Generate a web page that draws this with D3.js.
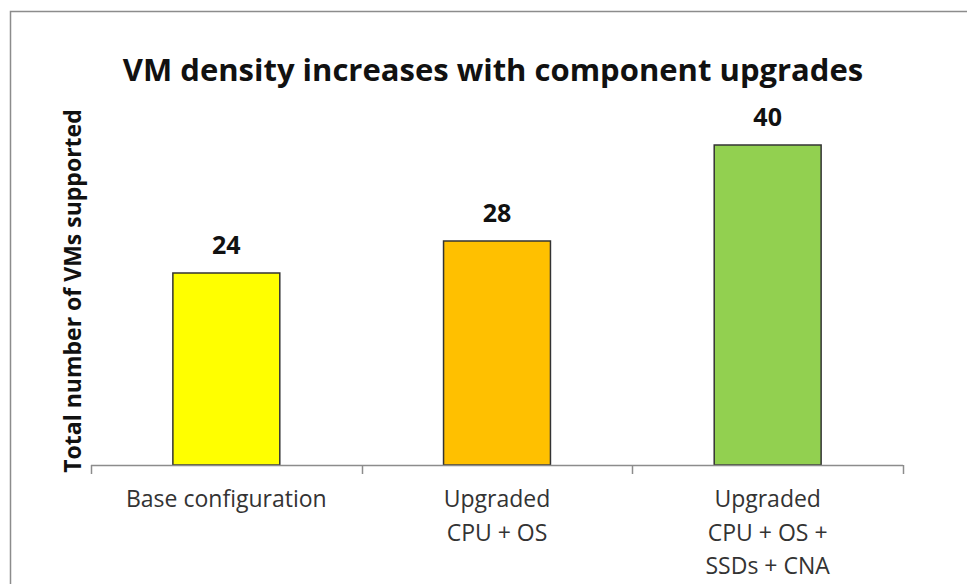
<!DOCTYPE html>
<html>
<head>
<meta charset="utf-8">
<script src="https://cdn.jsdelivr.net/npm/d3@7"></script>
<style>
  body { margin: 0; background: #fff; }
  svg { display: block; }
</style>
</head>
<body>
<svg id="chart"></svg>
<script>
const categories = [
  ["Base configuration"],
  ["Upgraded", "CPU + OS"],
  ["Upgraded", "CPU + OS +", "SSDs + CNA"]
];
const values = [24, 28, 40];
const barColors = ["#ffff00", "#ffc000", "#92d050"];
const titleText = "VM density increases with component upgrades";
const yTitle = "Total number of VMs supported";

const width = 967, height = 584;
const margin = { top: 105, right: 64, bottom: 119, left: 91 };

const svg = d3.select("#chart").attr("width", width).attr("height", height);
const font = "'Open Sans', Lato, sans-serif";

// outer frame (runs off right and bottom)
svg.append("rect")
  .attr("x", 10.5).attr("y", 11.5)
  .attr("width", width + 20).attr("height", height + 20)
  .attr("fill", "none")
  .attr("stroke", "#8c8c8c")
  .attr("stroke-width", 1.5);

svg.append("text")
  .attr("x", 493).attr("y", 81)
  .attr("text-anchor", "middle")
  .attr("font-family", font)
  .attr("font-weight", "bold")
  .attr("font-size", 31)
  .attr("fill", "#111")
  .text(titleText);

const x = d3.scaleBand()
  .domain(d3.range(values.length))
  .range([margin.left, width - margin.right])
  .paddingInner(0.605)
  .paddingOuter(0.3025);

const y = d3.scaleLinear()
  .domain([0, 45])
  .range([height - margin.bottom, margin.top]);

const x0 = margin.left, x1 = width - margin.right;
const base = y(0);
const step = (x1 - x0) / values.length;

// bars
svg.append("g")
  .selectAll("rect")
  .data(values)
  .enter()
  .append("rect")
  .attr("x", (d, i) => x(i))
  .attr("y", d => y(d))
  .attr("width", x.bandwidth())
  .attr("height", d => base - y(d))
  .attr("fill", (d, i) => barColors[i])
  .attr("stroke", "#333")
  .attr("stroke-width", 1.5);

// value labels
svg.append("g")
  .selectAll("text")
  .data(values)
  .enter()
  .append("text")
  .attr("x", (d, i) => x(i) + x.bandwidth() / 2)
  .attr("y", d => y(d) - 19)
  .attr("text-anchor", "middle")
  .attr("font-family", font)
  .attr("font-weight", "bold")
  .attr("font-size", 25)
  .attr("fill", "#111")
  .text(d => d);

// x axis line with boundary ticks
const axis = svg.append("g").attr("stroke", "#8c8c8c").attr("stroke-width", 1.5);
axis.append("line")
  .attr("x1", x0).attr("x2", x1)
  .attr("y1", base + 0.5).attr("y2", base + 0.5);
d3.range(values.length + 1).forEach(i => {
  const tx = Math.round(x0 + i * step) + 0.5;
  axis.append("line")
    .attr("x1", tx).attr("x2", tx)
    .attr("y1", base).attr("y2", base + 9);
});

// category labels
svg.append("g")
  .selectAll("text")
  .data(categories)
  .enter()
  .append("text")
  .attr("text-anchor", "middle")
  .attr("font-family", font)
  .attr("font-size", 23)
  .attr("fill", "#333")
  .each(function (lines, i) {
    const cx = x(i) + x.bandwidth() / 2;
    d3.select(this).selectAll("tspan")
      .data(lines)
      .enter()
      .append("tspan")
      .attr("x", cx)
      .attr("y", (l, j) => 507 + j * 33.5)
      .text(l => l);
  });

// y axis title
svg.append("text")
  .attr("transform", `translate(81,${291}) rotate(-90)`)
  .attr("text-anchor", "middle")
  .attr("font-family", font)
  .attr("font-weight", "bold")
  .attr("font-size", 23)
  .attr("fill", "#111")
  .text(yTitle);
</script>
</body>
</html>
